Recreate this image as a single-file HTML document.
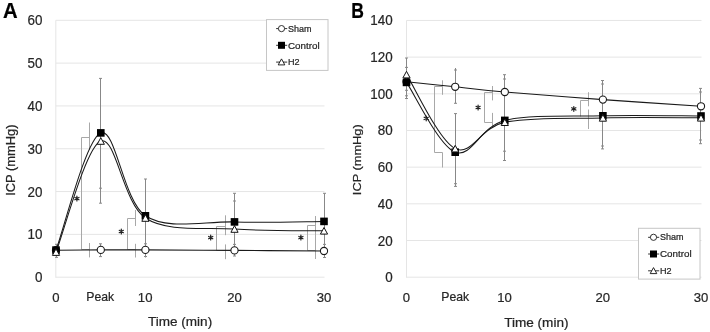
<!DOCTYPE html>
<html><head><meta charset="utf-8"><style>
html,body{margin:0;padding:0;background:#fff;}
svg{display:block;will-change:transform;font-family:"Liberation Sans", sans-serif;}
</style></head><body>
<svg width="710" height="332" viewBox="0 0 710 332">
<rect width="710" height="332" fill="#fff"/>
<line x1="55.8" y1="234.38" x2="324.5" y2="234.38" stroke="#e5e5e5" stroke-width="1"/>
<line x1="55.8" y1="191.57" x2="324.5" y2="191.57" stroke="#e5e5e5" stroke-width="1"/>
<line x1="55.8" y1="148.75" x2="324.5" y2="148.75" stroke="#e5e5e5" stroke-width="1"/>
<line x1="55.8" y1="105.93" x2="324.5" y2="105.93" stroke="#e5e5e5" stroke-width="1"/>
<line x1="55.8" y1="63.12" x2="324.5" y2="63.12" stroke="#e5e5e5" stroke-width="1"/>
<line x1="55.8" y1="20.3" x2="324.5" y2="20.3" stroke="#e5e5e5" stroke-width="1"/>
<line x1="55.8" y1="277.2" x2="324.5" y2="277.2" stroke="#e5e5e5" stroke-width="1"/>
<line x1="55.8" y1="20.3" x2="55.8" y2="277.7" stroke="#e5e5e5" stroke-width="1"/>
<text x="35.02" y="282.2" font-size="13.82" fill="#262626" stroke="#262626" stroke-width="0.22" textLength="7.46" lengthAdjust="spacingAndGlyphs">0</text>
<text x="27.56" y="239.38" font-size="13.82" fill="#262626" stroke="#262626" stroke-width="0.22" textLength="14.91" lengthAdjust="spacingAndGlyphs">10</text>
<text x="27.56" y="196.57" font-size="13.82" fill="#262626" stroke="#262626" stroke-width="0.22" textLength="14.91" lengthAdjust="spacingAndGlyphs">20</text>
<text x="27.56" y="153.75" font-size="13.82" fill="#262626" stroke="#262626" stroke-width="0.22" textLength="14.91" lengthAdjust="spacingAndGlyphs">30</text>
<text x="27.56" y="110.93" font-size="13.82" fill="#262626" stroke="#262626" stroke-width="0.22" textLength="14.91" lengthAdjust="spacingAndGlyphs">40</text>
<text x="27.56" y="68.12" font-size="13.82" fill="#262626" stroke="#262626" stroke-width="0.22" textLength="14.91" lengthAdjust="spacingAndGlyphs">50</text>
<text x="27.56" y="25.3" font-size="13.82" fill="#262626" stroke="#262626" stroke-width="0.22" textLength="14.91" lengthAdjust="spacingAndGlyphs">60</text>
<text x="52.35" y="301.6" font-size="13.53" fill="#262626" stroke="#262626" stroke-width="0.22" textLength="7.3" lengthAdjust="spacingAndGlyphs">0</text>
<text x="137.86" y="301.6" font-size="13.53" fill="#262626" stroke="#262626" stroke-width="0.22" textLength="14.6" lengthAdjust="spacingAndGlyphs">10</text>
<text x="227.13" y="301.6" font-size="13.53" fill="#262626" stroke="#262626" stroke-width="0.22" textLength="14.6" lengthAdjust="spacingAndGlyphs">20</text>
<text x="316.71" y="301.6" font-size="13.53" fill="#262626" stroke="#262626" stroke-width="0.22" textLength="14.6" lengthAdjust="spacingAndGlyphs">30</text>
<text x="86.25" y="301.4" font-size="12.9" fill="#262626" stroke="#262626" stroke-width="0.22" textLength="27.89" lengthAdjust="spacingAndGlyphs">Peak</text>
<text x="147.95" y="325.9" font-size="13.18" fill="#262626" stroke="#262626" stroke-width="0.22" textLength="64.24" lengthAdjust="spacingAndGlyphs">Time (min)</text>
<text x="15.1" y="195.84" font-size="12.14" fill="#262626" stroke="#262626" stroke-width="0.22" textLength="71.38" lengthAdjust="spacingAndGlyphs" transform="rotate(-90 15.1 195.84)">ICP (mmHg)</text>
<text x="3.05" y="17.6" font-size="21.58" font-weight="bold" fill="#000" stroke="#000" stroke-width="0.22" textLength="14.64" lengthAdjust="spacingAndGlyphs">A</text>
<polyline points="89.5,122.5 89.5,137.5 81.5,137.5 81.5,249.5 89.5,249.5" fill="none" stroke="#a8a8a8" stroke-width="1"/>
<line x1="89.5" y1="123" x2="89.5" y2="150" stroke="#a8a8a8" stroke-width="1"/>
<line x1="89.5" y1="243" x2="89.5" y2="257.4" stroke="#a8a8a8" stroke-width="1"/>
<polyline points="135.5,218.5 127.5,218.5 127.5,249.5 135.5,249.5" fill="none" stroke="#a8a8a8" stroke-width="1"/>
<line x1="135.5" y1="210" x2="135.5" y2="226" stroke="#a8a8a8" stroke-width="1"/>
<line x1="135.5" y1="243.8" x2="135.5" y2="257.5" stroke="#a8a8a8" stroke-width="1"/>
<polyline points="225.5,226.5 216.5,226.5 216.5,250.5 225.5,250.5" fill="none" stroke="#a8a8a8" stroke-width="1"/>
<line x1="225.5" y1="215.3" x2="225.5" y2="235.2" stroke="#a8a8a8" stroke-width="1"/>
<line x1="225.5" y1="244.4" x2="225.5" y2="259.2" stroke="#a8a8a8" stroke-width="1"/>
<polyline points="315.5,225.5 307.5,225.5 307.5,250.5 315.5,250.5" fill="none" stroke="#a8a8a8" stroke-width="1"/>
<line x1="315.5" y1="216" x2="315.5" y2="259" stroke="#a8a8a8" stroke-width="1"/>
<line x1="56.5" y1="244.3" x2="56.5" y2="257.4" stroke="#888888" stroke-width="1"/>
<line x1="55" y1="244.3" x2="58" y2="244.3" stroke="#888888" stroke-width="1"/>
<line x1="55" y1="257.4" x2="58" y2="257.4" stroke="#888888" stroke-width="1"/>
<line x1="100.5" y1="78.4" x2="100.5" y2="203.2" stroke="#888888" stroke-width="1"/>
<line x1="99" y1="78.4" x2="102" y2="78.4" stroke="#888888" stroke-width="1"/>
<line x1="99" y1="188.2" x2="102" y2="188.2" stroke="#888888" stroke-width="1"/>
<line x1="99" y1="203.2" x2="102" y2="203.2" stroke="#888888" stroke-width="1"/>
<line x1="100.5" y1="243.8" x2="100.5" y2="256.6" stroke="#888888" stroke-width="1"/>
<line x1="99" y1="243.8" x2="102" y2="243.8" stroke="#888888" stroke-width="1"/>
<line x1="99" y1="256.6" x2="102" y2="256.6" stroke="#888888" stroke-width="1"/>
<line x1="145.5" y1="179" x2="145.5" y2="257.5" stroke="#888888" stroke-width="1"/>
<line x1="144" y1="179" x2="147" y2="179" stroke="#888888" stroke-width="1"/>
<line x1="144" y1="243.8" x2="147" y2="243.8" stroke="#888888" stroke-width="1"/>
<line x1="144" y1="256.5" x2="147" y2="256.5" stroke="#888888" stroke-width="1"/>
<line x1="234.5" y1="193.3" x2="234.5" y2="256" stroke="#888888" stroke-width="1"/>
<line x1="233" y1="193.3" x2="236" y2="193.3" stroke="#888888" stroke-width="1"/>
<line x1="233" y1="201" x2="236" y2="201" stroke="#888888" stroke-width="1"/>
<line x1="233" y1="244.4" x2="236" y2="244.4" stroke="#888888" stroke-width="1"/>
<line x1="233" y1="256" x2="236" y2="256" stroke="#888888" stroke-width="1"/>
<line x1="324.5" y1="193.3" x2="324.5" y2="258" stroke="#888888" stroke-width="1"/>
<line x1="323" y1="193.3" x2="326" y2="193.3" stroke="#888888" stroke-width="1"/>
<line x1="323" y1="244.4" x2="326" y2="244.4" stroke="#888888" stroke-width="1"/>
<line x1="323" y1="257.5" x2="326" y2="257.5" stroke="#888888" stroke-width="1"/>
<path d="M121.3,229.1 L121.3,233.9 M119.22,230.3 L123.38,232.7 M123.38,230.3 L119.22,232.7" stroke="#222" stroke-width="1.2" stroke-linecap="round" fill="none"/>
<path d="M76.9,196.2 L76.9,201 M74.82,197.4 L78.98,199.8 M78.98,197.4 L74.82,199.8" stroke="#222" stroke-width="1.2" stroke-linecap="round" fill="none"/>
<path d="M210.7,235.2 L210.7,240 M208.62,236.4 L212.78,238.8 M212.78,236.4 L208.62,238.8" stroke="#222" stroke-width="1.2" stroke-linecap="round" fill="none"/>
<path d="M300.9,235.2 L300.9,240 M298.82,236.4 L302.98,238.8 M302.98,236.4 L298.82,238.8" stroke="#222" stroke-width="1.2" stroke-linecap="round" fill="none"/>
<path d="M56,250.2 C63.47,250.15 85.9,249.95 100.8,249.9 C115.7,249.85 123.12,249.82 145.4,249.9 C167.68,249.98 204.73,250.22 234.5,250.4 C264.27,250.58 309.08,250.9 324,251" fill="none" stroke="#1a1a1a" stroke-width="1.1"/>
<path d="M56,250.1 C63.47,230.57 85.9,138.62 100.8,132.9 C115.7,127.18 123.12,200.97 145.4,215.8 C167.68,230.63 204.73,220.97 234.5,221.9 C264.27,222.83 309.08,221.48 324,221.4" fill="none" stroke="#1a1a1a" stroke-width="1.05"/>
<path d="M56,252.1 C63.47,233.58 85.9,146.68 100.8,141 C115.7,135.32 123.12,203.33 145.4,218 C167.68,232.67 204.73,226.87 234.5,229 C264.27,231.13 309.08,230.5 324,230.8" fill="none" stroke="#1a1a1a" stroke-width="1.05"/>
<circle cx="56" cy="250.2" r="3.6" fill="#fff" stroke="#1a1a1a" stroke-width="1.1"/>
<circle cx="100.8" cy="249.9" r="3.6" fill="#fff" stroke="#1a1a1a" stroke-width="1.1"/>
<circle cx="145.4" cy="249.9" r="3.6" fill="#fff" stroke="#1a1a1a" stroke-width="1.1"/>
<circle cx="234.5" cy="250.4" r="3.6" fill="#fff" stroke="#1a1a1a" stroke-width="1.1"/>
<circle cx="324" cy="251" r="3.6" fill="#fff" stroke="#1a1a1a" stroke-width="1.1"/>
<rect x="52.2" y="246.3" width="7.6" height="7.6" fill="#000"/>
<rect x="97" y="129.1" width="7.6" height="7.6" fill="#000"/>
<rect x="141.6" y="212" width="7.6" height="7.6" fill="#000"/>
<rect x="230.7" y="218.1" width="7.6" height="7.6" fill="#000"/>
<rect x="320.2" y="217.6" width="7.6" height="7.6" fill="#000"/>
<path d="M56,248.8 L59.6,255.4 L52.4,255.4 Z" fill="#fff" stroke="#111" stroke-width="1" stroke-linejoin="miter"/>
<path d="M100.8,137.7 L104.4,144.3 L97.2,144.3 Z" fill="#fff" stroke="#111" stroke-width="1" stroke-linejoin="miter"/>
<path d="M145.4,214.7 L149,221.3 L141.8,221.3 Z" fill="#fff" stroke="#111" stroke-width="1" stroke-linejoin="miter"/>
<path d="M234.5,225.7 L238.1,232.3 L230.9,232.3 Z" fill="#fff" stroke="#111" stroke-width="1" stroke-linejoin="miter"/>
<path d="M324,227.5 L327.6,234.1 L320.4,234.1 Z" fill="#fff" stroke="#111" stroke-width="1" stroke-linejoin="miter"/>
<rect x="266.5" y="19.6" width="61.5" height="50.8" fill="#fff" stroke="#c6c6c6" stroke-width="1"/>
<line x1="276.1" y1="28.6" x2="287.2" y2="28.6" stroke="#333" stroke-width="1"/>
<circle cx="281.5" cy="28.6" r="3.1" fill="#fff" stroke="#1a1a1a" stroke-width="0.9"/>
<text x="287.94" y="31.6" font-size="8.76" fill="#262626" stroke="#262626" stroke-width="0.22" textLength="23.5" lengthAdjust="spacingAndGlyphs">Sham</text>
<line x1="276.1" y1="45.3" x2="287.2" y2="45.3" stroke="#333" stroke-width="1"/>
<rect x="278" y="41.8" width="7" height="7" fill="#000"/>
<text x="287.95" y="48.6" font-size="9.18" fill="#262626" stroke="#262626" stroke-width="0.22" textLength="31.66" lengthAdjust="spacingAndGlyphs">Control</text>
<line x1="276.1" y1="62.1" x2="287.2" y2="62.1" stroke="#333" stroke-width="1"/>
<path d="M281.5,58.9 L284.8,64.9 L278.2,64.9 Z" fill="#fff" stroke="#111" stroke-width="0.9" stroke-linejoin="miter"/>
<text x="287.91" y="65" font-size="9.09" fill="#262626" stroke="#262626" stroke-width="0.22" textLength="11.6" lengthAdjust="spacingAndGlyphs">H2</text>
<line x1="406.5" y1="240.52" x2="701.5" y2="240.52" stroke="#e5e5e5" stroke-width="1"/>
<line x1="406.5" y1="203.84" x2="701.5" y2="203.84" stroke="#e5e5e5" stroke-width="1"/>
<line x1="406.5" y1="167.17" x2="701.5" y2="167.17" stroke="#e5e5e5" stroke-width="1"/>
<line x1="406.5" y1="130.49" x2="701.5" y2="130.49" stroke="#e5e5e5" stroke-width="1"/>
<line x1="406.5" y1="93.81" x2="701.5" y2="93.81" stroke="#e5e5e5" stroke-width="1"/>
<line x1="406.5" y1="57.13" x2="701.5" y2="57.13" stroke="#e5e5e5" stroke-width="1"/>
<line x1="406.5" y1="20.45" x2="701.5" y2="20.45" stroke="#e5e5e5" stroke-width="1"/>
<line x1="406.5" y1="277.2" x2="701.5" y2="277.2" stroke="#e5e5e5" stroke-width="1"/>
<line x1="406.5" y1="20.45" x2="406.5" y2="277.7" stroke="#e5e5e5" stroke-width="1"/>
<text x="385.22" y="282.2" font-size="13.82" fill="#262626" stroke="#262626" stroke-width="0.22" textLength="7.46" lengthAdjust="spacingAndGlyphs">0</text>
<text x="377.76" y="245.52" font-size="13.82" fill="#262626" stroke="#262626" stroke-width="0.22" textLength="14.91" lengthAdjust="spacingAndGlyphs">20</text>
<text x="377.76" y="208.84" font-size="13.82" fill="#262626" stroke="#262626" stroke-width="0.22" textLength="14.91" lengthAdjust="spacingAndGlyphs">40</text>
<text x="377.76" y="172.17" font-size="13.82" fill="#262626" stroke="#262626" stroke-width="0.22" textLength="14.91" lengthAdjust="spacingAndGlyphs">60</text>
<text x="377.76" y="135.49" font-size="13.82" fill="#262626" stroke="#262626" stroke-width="0.22" textLength="14.91" lengthAdjust="spacingAndGlyphs">80</text>
<text x="370.31" y="98.81" font-size="13.82" fill="#262626" stroke="#262626" stroke-width="0.22" textLength="22.37" lengthAdjust="spacingAndGlyphs">100</text>
<text x="370.31" y="62.13" font-size="13.82" fill="#262626" stroke="#262626" stroke-width="0.22" textLength="22.37" lengthAdjust="spacingAndGlyphs">120</text>
<text x="370.31" y="25.45" font-size="13.82" fill="#262626" stroke="#262626" stroke-width="0.22" textLength="22.37" lengthAdjust="spacingAndGlyphs">140</text>
<text x="402.85" y="301.8" font-size="13.53" fill="#262626" stroke="#262626" stroke-width="0.22" textLength="7.3" lengthAdjust="spacingAndGlyphs">0</text>
<text x="497.26" y="301.8" font-size="13.53" fill="#262626" stroke="#262626" stroke-width="0.22" textLength="14.6" lengthAdjust="spacingAndGlyphs">10</text>
<text x="595.53" y="301.8" font-size="13.53" fill="#262626" stroke="#262626" stroke-width="0.22" textLength="14.6" lengthAdjust="spacingAndGlyphs">20</text>
<text x="693.71" y="301.8" font-size="13.53" fill="#262626" stroke="#262626" stroke-width="0.22" textLength="14.6" lengthAdjust="spacingAndGlyphs">30</text>
<text x="441.35" y="301.4" font-size="12.77" fill="#262626" stroke="#262626" stroke-width="0.22" textLength="27.89" lengthAdjust="spacingAndGlyphs">Peak</text>
<text x="504.15" y="327" font-size="12.49" fill="#262626" stroke="#262626" stroke-width="0.22" textLength="64.34" lengthAdjust="spacingAndGlyphs">Time (min)</text>
<text x="361" y="195.13" font-size="11.73" fill="#262626" stroke="#262626" stroke-width="0.22" textLength="70.77" lengthAdjust="spacingAndGlyphs" transform="rotate(-90 361 195.13)">ICP (mmHg)</text>
<text x="351.28" y="17.6" font-size="22.17" font-weight="bold" fill="#000" stroke="#000" stroke-width="0.22" textLength="12.67" lengthAdjust="spacingAndGlyphs">B</text>
<polyline points="442.5,86.5 434.5,86.5 434.5,152.5 442.5,152.5" fill="none" stroke="#a8a8a8" stroke-width="1"/>
<line x1="442.5" y1="80.3" x2="442.5" y2="94.8" stroke="#a8a8a8" stroke-width="1"/>
<line x1="442.5" y1="152.5" x2="442.5" y2="167.5" stroke="#a8a8a8" stroke-width="1"/>
<polyline points="492.5,92.5 484.5,92.5 484.5,122.5 492.5,122.5" fill="none" stroke="#a8a8a8" stroke-width="1"/>
<line x1="492.5" y1="86" x2="492.5" y2="100.4" stroke="#a8a8a8" stroke-width="1"/>
<line x1="492.5" y1="112.9" x2="492.5" y2="127" stroke="#a8a8a8" stroke-width="1"/>
<polyline points="588.5,100.5 580.5,100.5 580.5,116.5" fill="none" stroke="#a8a8a8" stroke-width="1"/>
<line x1="588.5" y1="92.2" x2="588.5" y2="106.3" stroke="#a8a8a8" stroke-width="1"/>
<line x1="588.5" y1="109.5" x2="588.5" y2="129" stroke="#a8a8a8" stroke-width="1"/>
<line x1="406.5" y1="58" x2="406.5" y2="72" stroke="#888888" stroke-width="1"/>
<line x1="405" y1="58" x2="408" y2="58" stroke="#888888" stroke-width="1"/>
<line x1="405" y1="67.4" x2="408" y2="67.4" stroke="#888888" stroke-width="1"/>
<line x1="406.5" y1="86" x2="406.5" y2="98.5" stroke="#888888" stroke-width="1"/>
<line x1="405" y1="90.3" x2="408" y2="90.3" stroke="#888888" stroke-width="1"/>
<line x1="405" y1="95.8" x2="408" y2="95.8" stroke="#888888" stroke-width="1"/>
<line x1="405" y1="98.5" x2="408" y2="98.5" stroke="#888888" stroke-width="1"/>
<line x1="455.5" y1="68" x2="455.5" y2="103.3" stroke="#888888" stroke-width="1"/>
<line x1="454" y1="70" x2="457" y2="70" stroke="#888888" stroke-width="1"/>
<line x1="454" y1="103.3" x2="457" y2="103.3" stroke="#888888" stroke-width="1"/>
<line x1="455.5" y1="113.6" x2="455.5" y2="186.4" stroke="#888888" stroke-width="1"/>
<line x1="454" y1="113.6" x2="457" y2="113.6" stroke="#888888" stroke-width="1"/>
<line x1="454" y1="183.7" x2="457" y2="183.7" stroke="#888888" stroke-width="1"/>
<line x1="454" y1="186.4" x2="457" y2="186.4" stroke="#888888" stroke-width="1"/>
<line x1="504.5" y1="74.7" x2="504.5" y2="160.5" stroke="#888888" stroke-width="1"/>
<line x1="503" y1="74.7" x2="506" y2="74.7" stroke="#888888" stroke-width="1"/>
<line x1="503" y1="79" x2="506" y2="79" stroke="#888888" stroke-width="1"/>
<line x1="503" y1="151.2" x2="506" y2="151.2" stroke="#888888" stroke-width="1"/>
<line x1="503" y1="160.5" x2="506" y2="160.5" stroke="#888888" stroke-width="1"/>
<line x1="602.5" y1="80.5" x2="602.5" y2="148.9" stroke="#888888" stroke-width="1"/>
<line x1="601" y1="80.5" x2="604" y2="80.5" stroke="#888888" stroke-width="1"/>
<line x1="601" y1="84" x2="604" y2="84" stroke="#888888" stroke-width="1"/>
<line x1="601" y1="146" x2="604" y2="146" stroke="#888888" stroke-width="1"/>
<line x1="601" y1="148.9" x2="604" y2="148.9" stroke="#888888" stroke-width="1"/>
<line x1="700.5" y1="88.4" x2="700.5" y2="143.7" stroke="#888888" stroke-width="1"/>
<line x1="699" y1="88.4" x2="702" y2="88.4" stroke="#888888" stroke-width="1"/>
<line x1="699" y1="92" x2="702" y2="92" stroke="#888888" stroke-width="1"/>
<line x1="699" y1="140" x2="702" y2="140" stroke="#888888" stroke-width="1"/>
<line x1="699" y1="143.7" x2="702" y2="143.7" stroke="#888888" stroke-width="1"/>
<path d="M426.2,116 L426.2,120.8 M424.12,117.2 L428.28,119.6 M428.28,117.2 L424.12,119.6" stroke="#222" stroke-width="1.2" stroke-linecap="round" fill="none"/>
<path d="M478.1,105.1 L478.1,109.9 M476.02,106.3 L480.18,108.7 M480.18,106.3 L476.02,108.7" stroke="#222" stroke-width="1.2" stroke-linecap="round" fill="none"/>
<path d="M573.8,106.5 L573.8,111.3 M571.72,107.7 L575.88,110.1 M575.88,107.7 L571.72,110.1" stroke="#222" stroke-width="1.2" stroke-linecap="round" fill="none"/>
<path d="M406.5,81.8 C414.62,82.63 438.82,85.1 455.2,86.8 C471.58,88.5 480.18,89.87 504.8,92 C529.42,94.13 570.2,97.22 602.9,99.6 C635.6,101.98 684.65,105.18 701,106.3" fill="none" stroke="#1a1a1a" stroke-width="1.1"/>
<path d="M406.5,82.4 C414.62,94.03 438.82,145.87 455.2,152.2 C471.58,158.53 480.18,126.47 504.8,120.4 C529.42,114.33 570.2,116.53 602.9,115.8 C635.6,115.07 684.65,115.97 701,116" fill="none" stroke="#1a1a1a" stroke-width="1.05"/>
<path d="M406.5,74.6 C414.62,86.93 438.82,140.67 455.2,148.6 C471.58,156.53 480.18,127.32 504.8,122.2 C529.42,117.08 570.2,118.63 602.9,117.9 C635.6,117.17 684.65,117.82 701,117.8" fill="none" stroke="#1a1a1a" stroke-width="1.05"/>
<circle cx="406.5" cy="81.8" r="3.6" fill="#fff" stroke="#1a1a1a" stroke-width="1.1"/>
<circle cx="455.2" cy="86.8" r="3.6" fill="#fff" stroke="#1a1a1a" stroke-width="1.1"/>
<circle cx="504.8" cy="92" r="3.6" fill="#fff" stroke="#1a1a1a" stroke-width="1.1"/>
<circle cx="602.9" cy="99.6" r="3.6" fill="#fff" stroke="#1a1a1a" stroke-width="1.1"/>
<circle cx="701" cy="106.3" r="3.6" fill="#fff" stroke="#1a1a1a" stroke-width="1.1"/>
<rect x="402.7" y="78.6" width="7.6" height="7.6" fill="#000"/>
<rect x="451.4" y="148.4" width="7.6" height="7.6" fill="#000"/>
<rect x="501" y="116.6" width="7.6" height="7.6" fill="#000"/>
<rect x="599.1" y="112" width="7.6" height="7.6" fill="#000"/>
<rect x="697.2" y="112.2" width="7.6" height="7.6" fill="#000"/>
<path d="M406.5,71.3 L410.1,77.9 L402.9,77.9 Z" fill="#fff" stroke="#111" stroke-width="1" stroke-linejoin="miter"/>
<path d="M455.2,145.3 L458.8,151.9 L451.6,151.9 Z" fill="#fff" stroke="#111" stroke-width="1" stroke-linejoin="miter"/>
<path d="M504.8,118.9 L508.4,125.5 L501.2,125.5 Z" fill="#fff" stroke="#111" stroke-width="1" stroke-linejoin="miter"/>
<path d="M602.9,114.6 L606.5,121.2 L599.3,121.2 Z" fill="#fff" stroke="#111" stroke-width="1" stroke-linejoin="miter"/>
<path d="M701,114.5 L704.6,121.1 L697.4,121.1 Z" fill="#fff" stroke="#111" stroke-width="1" stroke-linejoin="miter"/>
<rect x="638.5" y="228.3" width="61.5" height="50.8" fill="#fff" stroke="#c6c6c6" stroke-width="1"/>
<line x1="648.1" y1="237.3" x2="659.2" y2="237.3" stroke="#333" stroke-width="1"/>
<circle cx="653.5" cy="237.3" r="3.1" fill="#fff" stroke="#1a1a1a" stroke-width="0.9"/>
<text x="659.94" y="240.3" font-size="8.76" fill="#262626" stroke="#262626" stroke-width="0.22" textLength="23.5" lengthAdjust="spacingAndGlyphs">Sham</text>
<line x1="648.1" y1="254" x2="659.2" y2="254" stroke="#333" stroke-width="1"/>
<rect x="650" y="250.5" width="7" height="7" fill="#000"/>
<text x="659.95" y="257.3" font-size="9.18" fill="#262626" stroke="#262626" stroke-width="0.22" textLength="31.66" lengthAdjust="spacingAndGlyphs">Control</text>
<line x1="648.1" y1="270.8" x2="659.2" y2="270.8" stroke="#333" stroke-width="1"/>
<path d="M653.5,267.6 L656.8,273.6 L650.2,273.6 Z" fill="#fff" stroke="#111" stroke-width="0.9" stroke-linejoin="miter"/>
<text x="659.91" y="273.7" font-size="9.09" fill="#262626" stroke="#262626" stroke-width="0.22" textLength="11.6" lengthAdjust="spacingAndGlyphs">H2</text>
</svg>
</body></html>
